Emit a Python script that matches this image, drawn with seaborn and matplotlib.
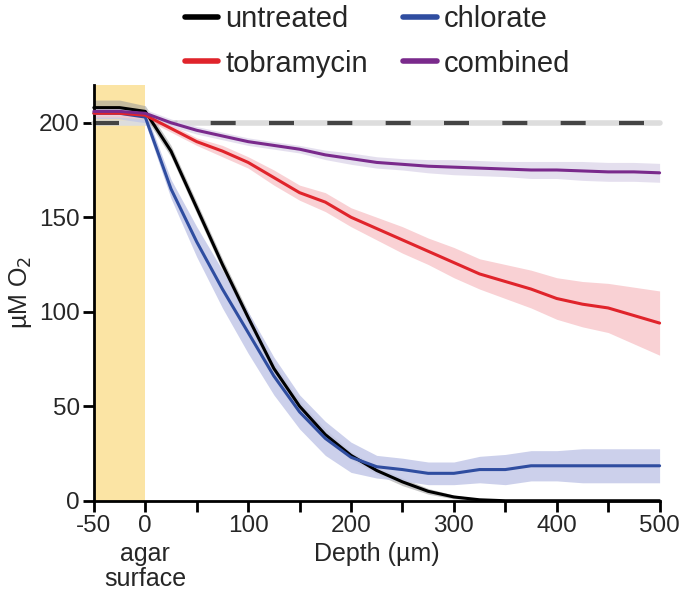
import numpy as np
import pandas as pd
import matplotlib
matplotlib.use("Agg")
import matplotlib.pyplot as plt
import seaborn as sns

# depth points (µm), 25 µm steps
depth = [-50, -25, 0, 25, 50, 75, 100, 125, 150, 175, 200, 225, 250,
         275, 300, 325, 350, 375, 400, 425, 450, 475, 500]

# mean O2 (µM) per condition
untreated = [208, 208, 206, 185, 155, 125, 97, 70, 50, 35, 24, 16, 10,
             5, 2, 0.5, 0, 0, 0, 0, 0, 0, 0]
chlorate = [205, 205, 203, 165, 137, 112, 89, 66, 47, 33, 23, 18, 16.5,
            14.5, 14.5, 16.5, 16.5, 18.5, 18.5, 18.5, 18.5, 18.5, 18.5]
tobramycin = [205, 205, 204, 197, 190, 185, 179, 171, 163, 158, 150, 144, 138,
              132, 126, 120, 116, 112, 107, 104, 102, 98, 94]
combined = [206, 206, 205, 200, 196, 193, 190, 188, 186, 183, 181, 179, 178,
            177, 176.5, 176, 175.5, 175, 175, 174.5, 174, 174, 173.5]

# spread (± µM) of the shaded bands
untreated_sd = [4, 4, 3, 3, 3, 3, 3, 3, 3, 3, 2, 2, 2,
                1.5, 1, 0.5, 0.3, 0.3, 0.3, 0.3, 0.3, 0.3, 0.3]
chlorate_sd = [3, 3, 3, 5, 8, 10, 11, 10, 9, 9, 8, 6, 6,
               6, 6, 7, 8, 8, 8, 9, 9, 9, 9]
tobramycin_sd = [2, 2, 2, 2, 2, 3, 3, 4, 4, 5, 5, 6, 7,
                 7, 8, 8, 9, 10, 11, 12, 13, 15, 17]
combined_sd = [2, 2, 2, 2, 2, 2, 2, 2, 2, 2.5, 3, 3, 3,
               3.5, 4, 4, 4, 4.5, 4.5, 5, 5, 5, 5]

baseline = 200
surface = [-50, 0]

conditions = ["untreated", "chlorate", "tobramycin", "combined"]
means = [untreated, chlorate, tobramycin, combined]
sds = [untreated_sd, chlorate_sd, tobramycin_sd, combined_sd]
line_colors = ["#000000", "#2F4DA0", "#E0242B", "#7A2A8C"]
band_colors = ["#9A9A9A", "#C3C8E8", "#F8C9CD", "#E0DAEC"]

df = pd.DataFrame({
    "depth": depth * 4,
    "o2": sum(means, []),
    "sd": sum(sds, []),
    "condition": np.repeat(conditions, len(depth)),
})

sns.set_style("ticks")
plt.rcParams["font.family"] = ["Liberation Sans", "DejaVu Sans"]

fig = plt.figure(figsize=(6.8, 5.94), dpi=100)
ax = fig.add_axes([0.138, 0.157, 0.832, 0.70])

# agar surface region
ax.axvspan(surface[0], surface[1], color="#FBE4A4", lw=0, zorder=0)

# reference level
ax.axhline(baseline, color="#DDDDDD", lw=4, zorder=1)
ax.axhline(baseline, color="#444444", lw=3, dashes=(6, 8), zorder=1.5)

for cond, bc in zip(conditions, band_colors):
    sub = df[df["condition"] == cond]
    ax.fill_between(sub["depth"], sub["o2"] - sub["sd"], sub["o2"] + sub["sd"],
                    color=bc, alpha=0.85 if cond != "untreated" else 0.55,
                    lw=0, zorder=2)

sns.lineplot(data=df, x="depth", y="o2", hue="condition", hue_order=conditions,
             palette=line_colors, lw=2.2, ax=ax, legend=False, zorder=3)
for ln in ax.lines:
    ln.set_clip_on(False)

ax.set_xlim(-50, 500)
ax.set_ylim(0, 220)
ax.set_xticks(np.arange(-50, 501, 50))
ax.set_xticklabels(["-50", "0", "", "100", "", "200", "", "300",
                    "", "400", "", "500"])
ax.set_yticks([0, 50, 100, 150, 200])
ax.tick_params(axis="both", length=8, width=2, labelsize=17.5, direction="out",
               color="black", pad=2)
for s in ["left", "bottom"]:
    ax.spines[s].set_linewidth(2)
    ax.spines[s].set_color("black")
sns.despine(ax=ax)

ax.text(0, -0.1, "agar\nsurface", transform=ax.get_xaxis_transform(),
        ha="center", va="top", fontsize=18, linespacing=1.05)

ax.set_xlabel("Depth (µm)", fontsize=18, labelpad=4)
ax.set_ylabel("µM O$_2$", fontsize=18, labelpad=4)

# legend filled row by row: untreated, chlorate / tobramycin, combined
order = [0, 2, 1, 3]
handles = [plt.Line2D([], [], color=line_colors[i], lw=4) for i in order]
labels = [conditions[i] for i in order]
fig.legend(handles, labels, loc="upper center", ncol=2, frameon=False,
           fontsize=21, bbox_to_anchor=(0.555, 1.035), handlelength=1.15,
           handletextpad=0.25, columnspacing=1.2, labelspacing=0.55)

fig.savefig("out.png", dpi=100)
